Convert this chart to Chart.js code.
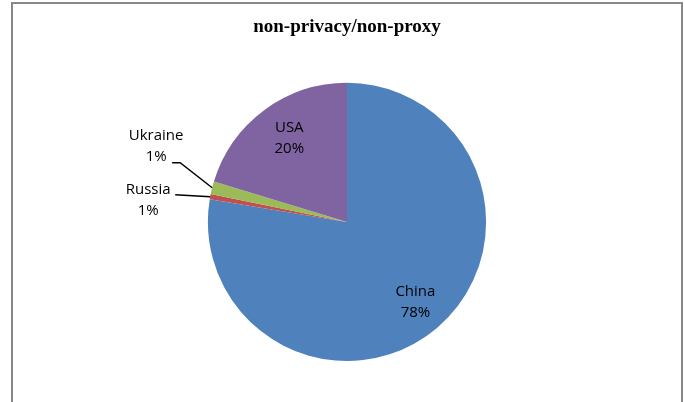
<!DOCTYPE html>
<html>
<head>
<meta charset="utf-8">
<script src="https://cdn.jsdelivr.net/npm/chart.js@4.4.0/dist/chart.umd.min.js"></script>
<style>
  html, body { margin: 0; padding: 0; background: #fff; }
  #wrap { position: relative; width: 685px; height: 402px; overflow: hidden; }
  #frame {
    position: absolute; left: 11px; top: 2px; width: 668px; height: 420px;
    border: 2px solid #888; border-bottom: none; pointer-events: none;
  }
</style>
</head>
<body>
<div id="wrap">
  <canvas id="pieChart" width="685" height="402"></canvas>
  <div id="frame"></div>
</div>
<script>
// dados do gráfico
const titleText = 'non-privacy/non-proxy';
const countries = ['China', 'Russia', 'Ukraine', 'USA'];
const shares = [77.6, 0.6, 1.49, 20.31];
const sliceColors = ['#4F81BD', '#C0504D', '#9BBB59', '#8064A2'];

// onde fica cada rótulo (dentro da fatia ou fora com linha guia)
const labelPlacement = {
    China:   { r: 0.76 },
    USA:     { r: 0.745, dx: 4 },
    Ukraine: { tx: -56, ty: -42, line: [[-32, -25], [-40, -25]] },
    Russia:  { tx: -62, ty: 4, line: [[-35, -2]] }
};

const labelFont = '15px "Open Sans", "Liberation Sans", sans-serif';
const lineGap = 21;

// Plugin simples para escrever os rótulos no estilo Excel
const pieLabels = {
    id: 'pieLabels',
    afterDatasetsDraw(chart) {
        const ctx = chart.ctx;
        const meta = chart.getDatasetMeta(0);
        const data = chart.data.datasets[0].data;
        const total = data.reduce((a, b) => a + b, 0);

        ctx.save();
        ctx.font = labelFont;
        ctx.fillStyle = '#000';
        ctx.textAlign = 'center';
        ctx.textBaseline = 'middle';

        meta.data.forEach((arc, i) => {
            const name = chart.data.labels[i];
            const pct = Math.round(data[i] / total * 100) + '%';
            const place = labelPlacement[name];
            const mid = (arc.startAngle + arc.endAngle) / 2;
            let cx, cy;

            if (place.r !== undefined) {
                const dist = arc.outerRadius * place.r;
                cx = arc.x + Math.cos(mid) * dist + (place.dx || 0);
                cy = arc.y + Math.sin(mid) * dist;
            } else {
                // ponto na borda da fatia
                const ax = arc.x + Math.cos(mid) * arc.outerRadius;
                const ay = arc.y + Math.sin(mid) * arc.outerRadius;
                cx = ax + place.tx;
                cy = ay + place.ty;

                ctx.beginPath();
                ctx.strokeStyle = '#000';
                ctx.lineWidth = 1.5;
                ctx.moveTo(ax, ay);
                place.line.forEach(p => ctx.lineTo(ax + p[0], ay + p[1]));
                ctx.stroke();
            }

            ctx.fillText(name, cx, cy - lineGap / 2);
            ctx.fillText(pct, cx, cy + lineGap / 2);
        });
        ctx.restore();
    }
};

function init() {
    const ctx = document.getElementById('pieChart').getContext('2d');

    new Chart(ctx, {
        type: 'pie',
        data: {
            labels: countries,
            datasets: [{
                data: shares,
                backgroundColor: sliceColors,
                borderWidth: 0,
                hoverOffset: 0,
                offset: 0
            }]
        },
        options: {
            responsive: false,
            animation: false,
            events: [],
            layout: { padding: { top: 0, bottom: 41, left: 9, right: 0 } },
            plugins: {
                legend: { display: false },
                tooltip: { enabled: false },
                title: {
                    display: true,
                    text: titleText,
                    color: '#000',
                    font: { family: '"Liberation Serif", serif', size: 19, weight: 'bold', lineHeight: 1.2 },
                    padding: { top: 16, bottom: 44 }
                }
            }
        },
        plugins: [pieLabels]
    });
}

window.onload = init;
</script>
</body>
</html>
